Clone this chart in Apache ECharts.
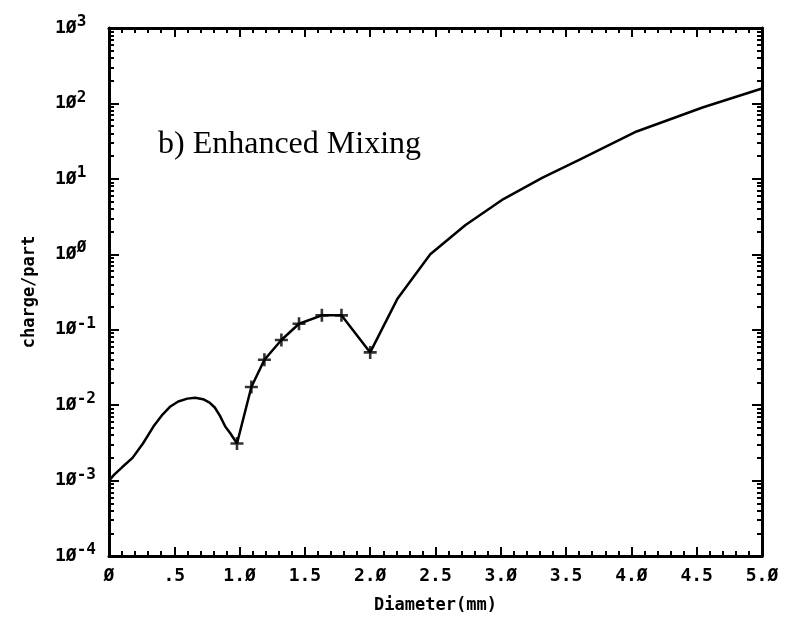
<!DOCTYPE html>
<html>
<head>
<meta charset="utf-8">
<script src="https://cdn.jsdelivr.net/npm/echarts@6/dist/echarts.min.js"></script>
<style>
  html, body { margin: 0; padding: 0; background: #fff; }
  #chart { width: 785px; height: 619px; }
</style>
</head>
<body>
<div id="chart"></div>
<script>
// curve (diameter in mm, charge per particle)
const diameter = [0, 0.04, 0.1, 0.18, 0.26, 0.34, 0.41, 0.47, 0.53, 0.6, 0.66, 0.72, 0.77, 0.81, 0.85, 0.89, 0.93, 0.98,
  1.09, 1.19, 1.32, 1.455, 1.63, 1.78, 2.0, 2.21, 2.46, 2.73, 3.02, 3.32, 3.6, 4.04, 4.55, 5.0]
const charge = [1.0e-3, 1.2e-3, 1.5e-3, 2.0e-3, 3.1e-3, 5.2e-3, 7.5e-3, 9.6e-3, 0.0112, 0.0122, 0.0125, 0.012, 0.0108, 0.0093, 0.0072, 0.0052, 0.0042, 0.0031,
  0.0174, 0.04, 0.073, 0.12, 0.155, 0.155, 0.05, 0.26, 1.0, 2.45, 5.4, 10.4, 17.8, 42.5, 89, 158]

// points drawn with a '+'
const markDiameter = [0.98, 1.09, 1.19, 1.32, 1.455, 1.63, 1.78, 2.0]
const markCharge = [0.0031, 0.0174, 0.04, 0.073, 0.12, 0.155, 0.155, 0.05]

const xTicks = [0, 0.5, 1, 1.5, 2, 2.5, 3, 3.5, 4, 4.5, 5]
const xTickLabels = ['Ø', '.5', '1.Ø', '1.5', '2.Ø', '2.5', '3.Ø', '3.5', '4.Ø', '4.5', '5.Ø']
const yExponents = [-4, -3, -2, -1, 0, 1, 2, 3]
const yExpLabels = ['-4', '-3', '-2', '-1', 'Ø', '1', '2', '3']

const decades = yExponents.map(e => Math.pow(10, e))
const minorValues = []
yExponents.slice(0, -1).forEach(e => {
  for (let k = 2; k <= 9; k++) minorValues.push(k * Math.pow(10, e))
})

const monoFont = '"DejaVu Sans Mono", monospace'
const plus = 'path://M4,0H6V4H10V6H6V10H4V6H0V4H4Z'

const logAxis = (position, values, len, opts) => Object.assign({
  type: 'log', logBase: 10, min: 1e-4, max: 1e3, position,
  axisLine: { show: false },
  axisTick: { show: true, inside: true, length: len, customValues: values, lineStyle: { color: '#000', width: 2 } },
  axisLabel: { show: false },
  splitLine: { show: false }
}, opts)

const chart = echarts.init(document.getElementById('chart'))
chart.setOption({
  backgroundColor: '#fff',
  animation: false,
  grid: { left: 109, right: 23, top: 28, bottom: 54 },
  xAxis: [
    {
      type: 'value', min: 0, max: 5, interval: 0.5, position: 'bottom',
      name: 'Diameter(mm)', nameLocation: 'middle', nameGap: 41,
      nameTextStyle: { fontFamily: monoFont, fontWeight: 'bold', fontSize: 17, color: '#000' },
      axisLine: { show: true, lineStyle: { color: '#000', width: 3 } },
      axisTick: { inside: true, length: 9, lineStyle: { color: '#000', width: 2 } },
      minorTick: { show: true, splitNumber: 5, length: 5, lineStyle: { color: '#000', width: 2 } },
      axisLabel: {
        margin: 11, fontFamily: monoFont, fontWeight: 'bold', fontSize: 18, color: '#000',
        formatter: v => xTickLabels[xTicks.findIndex(t => Math.abs(t - v) < 1e-6)]
      },
      splitLine: { show: false }
    },
    {
      type: 'value', min: 0, max: 5, interval: 0.5, position: 'top',
      axisLine: { show: true, lineStyle: { color: '#000', width: 3 } },
      axisTick: { inside: true, length: 9, lineStyle: { color: '#000', width: 2 } },
      minorTick: { show: true, splitNumber: 5, length: 5, lineStyle: { color: '#000', width: 2 } },
      axisLabel: { show: false },
      splitLine: { show: false }
    }
  ],
  yAxis: [
    logAxis('left', decades, 10, {
      name: 'charge/part', nameLocation: 'middle', nameGap: 71,
      nameTextStyle: { fontFamily: monoFont, fontWeight: 'bold', fontSize: 17, color: '#000' },
      axisLine: { show: true, lineStyle: { color: '#000', width: 3 } },
      axisLabel: {
        show: true, align: 'left', margin: 54, customValues: decades,
        formatter: v => {
          const i = decades.findIndex(d => Math.abs(Math.log10(d) - Math.log10(v)) < 1e-6)
          return '{b|1Ø}{s|' + yExpLabels[i] + '}'
        },
        rich: {
          b: { fontFamily: monoFont, fontWeight: 'bold', fontSize: 18, color: '#000' },
          s: { fontFamily: monoFont, fontWeight: 'bold', fontSize: 16, color: '#000', padding: [0, 0, 12, 0] }
        }
      }
    }),
    logAxis('left', minorValues, 5),
    logAxis('right', decades, 10, { axisLine: { show: true, lineStyle: { color: '#000', width: 3 } } }),
    logAxis('right', minorValues, 5)
  ],
  graphic: [{
    type: 'text', left: 158, top: 129,
    style: { text: 'b) Enhanced Mixing', font: '32px "Liberation Serif", serif', fill: '#000' }
  }],
  series: [
    {
      type: 'line', xAxisIndex: 0, yAxisIndex: 0,
      data: diameter.map((d, i) => [d, charge[i]]),
      showSymbol: false, smooth: false,
      lineStyle: { color: '#000', width: 2.5 }
    },
    {
      type: 'scatter', xAxisIndex: 0, yAxisIndex: 0,
      data: markDiameter.map((d, i) => [d, markCharge[i]]),
      symbol: plus, symbolSize: 13,
      itemStyle: { color: '#000' }
    }
  ]
})
</script>
</body>
</html>
